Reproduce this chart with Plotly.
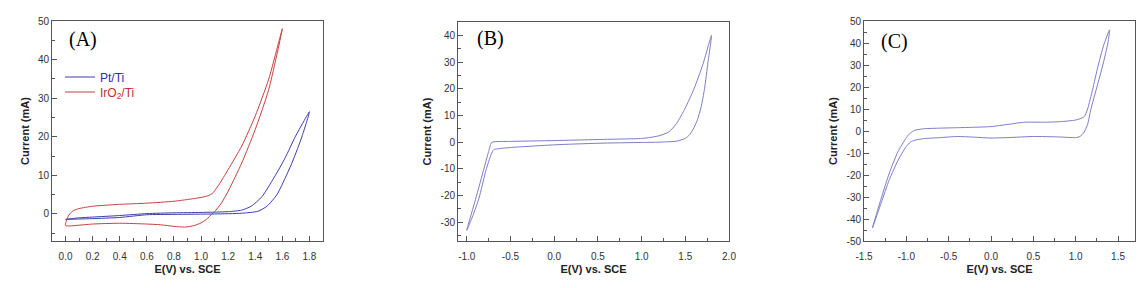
import plotly.graph_objects as go

# ---------------- Data ----------------
# Panel A: Pt/Ti
pt_up_E = [0.0, 0.1, 0.2, 0.4, 0.6, 0.8, 1.0, 1.2, 1.3, 1.37, 1.45, 1.54, 1.62, 1.695, 1.75, 1.8]
pt_up_I = [-1.4, -1.0, -0.8, -0.4, 0.1, 0.3, 0.4, 0.6, 1.0, 2.0, 4.5, 9.5, 14.5, 20.0, 23.5, 26.5]
pt_dn_E = [1.8, 1.744, 1.68, 1.63, 1.56, 1.486, 1.42, 1.3, 1.1, 0.8, 0.6, 0.4, 0.2, 0.1, 0.0]
pt_dn_I = [26.5, 20.0, 14.0, 10.0, 5.0, 2.0, 0.7, 0.2, 0.0, -0.1, -0.2, -0.9, -1.2, -1.3, -1.4]

# Panel A: IrO2/Ti
ir_up_E = [0.0, 0.01, 0.03, 0.06, 0.1, 0.2, 0.4, 0.6, 0.8, 0.95, 1.03, 1.08, 1.13, 1.2, 1.3, 1.4, 1.5, 1.6]
ir_up_I = [-3.0, -1.4, 0.0, 0.9, 1.4, 2.0, 2.5, 2.8, 3.3, 4.0, 4.5, 5.2, 7.5, 11.5, 17.6, 25.4, 35.0, 48.0]
ir_dn_E = [1.6, 1.5, 1.4, 1.3, 1.2, 1.15, 1.1, 1.08, 1.04, 1.0, 0.95, 0.88, 0.8, 0.7, 0.6, 0.4, 0.2, 0.1, 0.0]
ir_dn_I = [48.0, 32.3, 21.9, 13.2, 5.9, 2.8, 0.6, 0.0, -1.4, -2.3, -3.0, -3.4, -3.2, -2.8, -2.6, -2.4, -2.6, -2.9, -3.0]

# Panel B
b_up_E = [-1.0, -0.9, -0.8, -0.75, -0.72, -0.7, -0.5, 0.0, 0.5, 1.0, 1.1, 1.2, 1.31, 1.4, 1.5, 1.6, 1.7, 1.8]
b_up_I = [-33.0, -21.5, -9.5, -3.5, -0.3, 0.1, 0.3, 0.6, 1.0, 1.4, 1.8, 2.4, 3.8, 7.0, 12.8, 20.0, 29.0, 40.0]
b_dn_E = [1.8, 1.76, 1.72, 1.68, 1.64, 1.6, 1.55, 1.5, 1.4, 1.2, 1.0, 0.5, 0.0, -0.5, -0.65, -0.69, -0.72, -0.78, -0.86, -0.93, -1.0]
b_dn_I = [40.0, 30.0, 20.0, 13.0, 8.5, 5.5, 2.8, 1.4, 0.4, 0.0, -0.1, -0.4, -1.0, -2.0, -2.5, -2.8, -4.5, -10.5, -21.0, -27.5, -33.0]

# Panel C
c_up_E = [-1.4, -1.3, -1.2, -1.1, -1.0, -0.95, -0.9, -0.8, -0.6, -0.4, -0.2, 0.0, 0.2, 0.4, 0.6, 0.8, 1.0, 1.1, 1.14, 1.2, 1.26, 1.33, 1.4]
c_up_I = [-44.0, -31.0, -19.0, -9.5, -3.0, -0.8, 0.3, 1.0, 1.3, 1.5, 1.7, 2.0, 3.0, 4.0, 4.0, 4.2, 5.0, 6.5, 10.0, 19.0, 29.0, 39.0, 46.0]
c_dn_E = [1.4, 1.38, 1.32, 1.25, 1.18, 1.14, 1.1, 1.05, 1.0, 0.8, 0.5, 0.2, 0.0, -0.2, -0.4, -0.6, -0.8, -0.9, -0.95, -1.0, -1.05, -1.1, -1.2, -1.3, -1.4]
c_dn_I = [46.0, 40.0, 30.0, 20.0, 10.0, 3.0, -0.5, -2.5, -3.0, -2.7, -2.5, -3.0, -3.2, -2.8, -2.5, -3.0, -3.5, -4.2, -5.0, -7.0, -10.0, -13.5, -22.0, -33.0, -44.0]

# Tick labels
a_xticks = [0.0, 0.2, 0.4, 0.6, 0.8, 1.0, 1.2, 1.4, 1.6, 1.8]
a_xtext = ["0.0", "0.2", "0.4", "0.6", "0.8", "1.0", "1.2", "1.4", "1.6", "1.8"]
a_yticks = [0, 10, 20, 30, 40, 50]
a_ytext = ["0", "10", "20", "30", "40", "50"]
b_xticks = [-1.0, -0.5, 0.0, 0.5, 1.0, 1.5, 2.0]
b_xtext = ["-1.0", "-0.5", "0.0", "0.5", "1.0", "1.5", "2.0"]
b_yticks = [-30, -20, -10, 0, 10, 20, 30, 40]
b_ytext = ["-30", "-20", "-10", "0", "10", "20", "30", "40"]
c_xticks = [-1.5, -1.0, -0.5, 0.0, 0.5, 1.0, 1.5]
c_xtext = ["-1.5", "-1.0", "-0.5", "0.0", "0.5", "1.0", "1.5"]
c_yticks = [-50, -40, -30, -20, -10, 0, 10, 20, 30, 40, 50]
c_ytext = ["-50", "-40", "-30", "-20", "-10", "0", "10", "20", "30", "40", "50"]

# ---------------- Figure ----------------
W, H = 1144, 288
BLUE_A = "#3c3cb0"
RED_A = "#c84040"
BLUE_BC = "#7c7cc8"

fig = go.Figure()

def add(x1, y1, x2, y2, color, xa, ya, name=None, legend=None):
    kw = dict(showlegend=legend is not None)
    if legend is not None:
        kw["legend"] = legend
    fig.add_trace(go.Scatter(
        x=x1 + x2[1:], y=y1 + y2[1:], mode="lines",
        line=dict(color=color, width=1, shape="spline", smoothing=0.6),
        xaxis=xa, yaxis=ya, name=name, hoverinfo="skip", **kw))

add(pt_up_E, pt_up_I, pt_dn_E, pt_dn_I, BLUE_A, "x", "y",
    name='<span style="color:#2e2eb0">Pt/Ti</span>', legend="legend")
add(ir_up_E, ir_up_I, ir_dn_E, ir_dn_I, RED_A, "x", "y",
    name='<span style="color:#c03030">IrO<sub>2</sub>/Ti</span>', legend="legend2")
add(b_up_E, b_up_I, b_dn_E, b_dn_I, BLUE_BC, "x2", "y2")
add(c_up_E, c_up_I, c_dn_E, c_dn_I, BLUE_BC, "x3", "y3")

FONT = "Liberation Sans, Arial, sans-serif"

def px(v):
    return v / W

def py(v):
    return 1 - v / H

def xaxis(dom, rng, tv, tt, minor_dtick, minor_tick0):
    return dict(domain=[px(dom[0]), px(dom[1])], range=rng, automargin=False,
                tickmode="array", tickvals=tv, ticktext=tt,
                ticks="inside", ticklen=5, tickwidth=1, tickcolor="#555",
                minor=dict(ticks="inside", ticklen=3, tickcolor="#555",
                           tickmode="linear", tick0=minor_tick0, dtick=minor_dtick),
                showline=True, linecolor="#555", linewidth=1, mirror=True,
                showgrid=False, zeroline=False,
                tickfont=dict(family=FONT, size=10, color="#333"),
                ticklabelstandoff=6,
                title=dict(text="<b>E(V) vs. SCE</b>", font=dict(family=FONT, size=11, color="#222"),
                           standoff=4))

def yaxis(dom, rng, tv, tt, minor_dtick, minor_tick0):
    return dict(domain=[py(dom[1]), py(dom[0])], range=rng, automargin=False,
                tickmode="array", tickvals=tv, ticktext=tt,
                ticks="inside", ticklen=5, tickwidth=1, tickcolor="#555",
                minor=dict(ticks="inside", ticklen=3, tickcolor="#555",
                           tickmode="linear", tick0=minor_tick0, dtick=minor_dtick),
                showline=True, linecolor="#555", linewidth=1, mirror=True,
                showgrid=False, zeroline=False,
                tickfont=dict(family=FONT, size=10, color="#333"),
                title=dict(text="<b>Current (mA)</b>", font=dict(family=FONT, size=11, color="#222"),
                           standoff=6))

xa = xaxis((52, 323), [-0.1, 1.9], a_xticks, a_xtext, 0.1, 0)
xa["anchor"] = "y"
ya = yaxis((21, 241), [-7, 50], a_yticks, a_ytext, 5, 0)
ya["anchor"] = "x"
xb = xaxis((458, 729), [-1.1, 2.0], b_xticks, b_xtext, 0.25, 0)
xb["anchor"] = "y2"
yb = yaxis((22, 241), [-37, 45], b_yticks, b_ytext, 5, 0)
yb["anchor"] = "x2"
xc = xaxis((864, 1135), [-1.5, 1.7], c_xticks, c_xtext, 0.25, 0)
xc["anchor"] = "y3"
yc = yaxis((21, 241), [-50, 50], c_yticks, c_ytext, 5, 0)
yc["anchor"] = "x3"

leg = dict(x=px(60), xanchor="left", yanchor="middle",
           bgcolor="rgba(0,0,0,0)", borderwidth=0,
           font=dict(family=FONT, size=12), itemwidth=30)

fig.update_layout(
    width=W, height=H, autosize=False,
    margin=dict(l=0, r=0, t=0, b=0, autoexpand=False),
    paper_bgcolor="white", plot_bgcolor="white",
    xaxis=xa, yaxis=ya, xaxis2=xb, yaxis2=yb, xaxis3=xc, yaxis3=yc,
    showlegend=True,
    legend=dict(leg, y=py(77)),
    legend2=dict(leg, y=py(92)),
)

for label, cx, cy in [("(A)", 83, 40), ("(B)", 490, 39), ("(C)", 895, 41)]:
    fig.add_annotation(text=label, x=px(cx), y=py(cy), xref="paper", yref="paper",
                       xanchor="center", yanchor="middle", showarrow=False,
                       font=dict(family="Liberation Serif, Times New Roman, serif", size=20, color="black"))

fig.write_html("out.html", config={"displayModeBar": False},
               post_script="document.body.style.margin='0';")
